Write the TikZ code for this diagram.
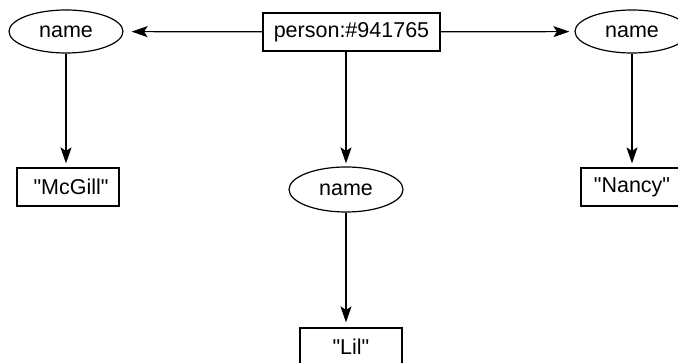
\documentclass[tikz,border=0pt]{standalone}
\usepackage{fontspec}
\newfontfamily\lsans{Liberation Sans}
\usetikzlibrary{shapes.geometric,arrows.meta}
\begin{document}
\begin{tikzpicture}[x=1pt,y=-1pt,
  every node/.style={font=\lsans\fontsize{21.5}{24}\selectfont, inner sep=0pt, line width=1.2pt},
  ell/.style={draw, ellipse, minimum width=114pt, minimum height=43pt},
  box/.style={draw, rectangle, minimum width=102pt, minimum height=38pt},
  arr/.style={line width=1.2pt, -{Stealth[length=16pt,width=11pt,inset=3.5pt]}}]
\useasboundingbox (0,0) rectangle (678,363);
\clip (0,0) rectangle (678,363);
\node[box, minimum width=177pt] (p) at (351.5,32) {person:\#941765};
\node[ell] (e1) at (66,31.5) {name};
\node[ell] (e2) at (632,31.5) {name};
\node[ell, minimum height=45pt] (e3) at (346,189.5) {name};
\node[box] (b1) at (68,187) {\hspace{6pt}"McGill"};
\node[box] (b2) at (632,187) {"Nancy"};
\node[box] (b3) at (351,347) {"Lil"};
\draw[arr, shorten >=8pt] (p) -- (e1);
\draw[arr, shorten >=5pt] (p) -- (e2);
\draw[arr, shorten >=4pt] (e1.south) -- (e1.south |- b1.north);
\draw[arr, shorten >=4pt] (e2.south) -- (e2.south |- b2.north);
\draw[arr, shorten >=3pt] (p.south -| e3) -- (e3.north);
\draw[arr, shorten >=5pt] (e3.south) -- (e3.south |- b3.north);
\end{tikzpicture}
\end{document}
